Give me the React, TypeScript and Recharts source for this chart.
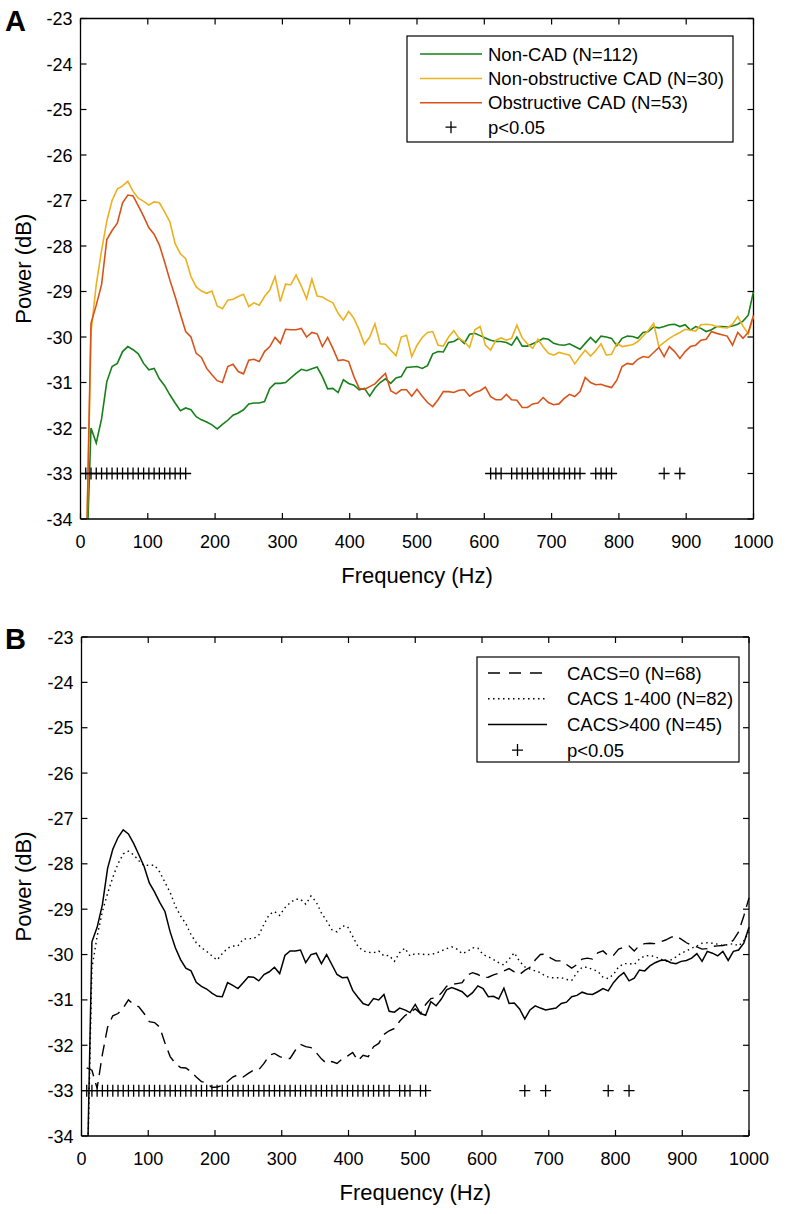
import React from "react";
import { ComposedChart, Line, Scatter, XAxis, YAxis, ReferenceLine } from "recharts";

// spectrum bins (Hz), 1000/128 Hz apart
const FREQ = [
  7.8, 15.6, 23.4, 31.3, 39.1, 46.9, 54.7, 62.5, 70.3, 78.1, 85.9, 93.8, 101.6, 109.4, 117.2, 125,
  132.8, 140.6, 148.4, 156.3, 164.1, 171.9, 179.7, 187.5, 195.3, 203.1, 210.9, 218.8, 226.6, 234.4, 242.2, 250,
  257.8, 265.6, 273.4, 281.3, 289.1, 296.9, 304.7, 312.5, 320.3, 328.1, 335.9, 343.8, 351.6, 359.4, 367.2, 375,
  382.8, 390.6, 398.4, 406.3, 414.1, 421.9, 429.7, 437.5, 445.3, 453.1, 460.9, 468.8, 476.6, 484.4, 492.2, 500,
  507.8, 515.6, 523.4, 531.3, 539.1, 546.9, 554.7, 562.5, 570.3, 578.1, 585.9, 593.8, 601.6, 609.4, 617.2, 625,
  632.8, 640.6, 648.4, 656.3, 664.1, 671.9, 679.7, 687.5, 695.3, 703.1, 710.9, 718.8, 726.6, 734.4, 742.2, 750,
  757.8, 765.6, 773.4, 781.3, 789.1, 796.9, 804.7, 812.5, 820.3, 828.1, 835.9, 843.8, 851.6, 859.4, 867.2, 875,
  882.8, 890.6, 898.4, 906.3, 914.1, 921.9, 929.7, 937.5, 945.3, 953.1, 960.9, 968.8, 976.6, 984.4, 992.2, 1000,
];

// panel A
const NON_CAD = [
  -35.5, -32.0, -32.33, -31.8, -30.98, -30.65, -30.58, -30.32, -30.21, -30.28, -30.37, -30.58, -30.72, -30.69, -30.92, -31.07,
  -31.27, -31.45, -31.62, -31.56, -31.6, -31.75, -31.82, -31.87, -31.93, -32.02, -31.92, -31.83, -31.72, -31.67, -31.6, -31.47,
  -31.45, -31.45, -31.42, -31.13, -31.02, -31.02, -31.0, -30.9, -30.8, -30.71, -30.74, -30.7, -30.66, -30.87, -31.14, -31.13,
  -31.22, -30.94, -31.02, -31.06, -31.16, -31.13, -31.3, -31.12, -31.0, -30.92, -31.02, -30.9, -30.87, -30.67, -30.66, -30.65,
  -30.69, -30.63, -30.37, -30.32, -30.33, -30.12, -30.1, -30.03, -30.14, -29.94, -29.92, -29.97, -30.02, -30.07, -30.1, -30.1,
  -30.12, -30.18, -30.0, -30.2, -30.2, -30.15, -30.1, -30.03, -30.05, -30.14, -30.17, -30.18, -30.15, -30.21, -30.27, -30.14,
  -30.01, -30.12, -29.98, -30.0, -30.03, -30.19, -30.03, -29.98, -29.99, -30.03, -29.9, -29.88, -29.78, -29.8, -29.77, -29.73,
  -29.72, -29.77, -29.73, -29.85, -29.77, -29.81, -29.88, -29.84, -29.77, -29.77, -29.78, -29.76, -29.72, -29.65, -29.52, -29.0,
];
const NON_OBSTRUCTIVE = [
  -35.5, -29.9, -28.85, -28.1, -27.45, -27.0, -26.75, -26.68, -26.58, -26.8, -26.95, -27.02, -27.1, -27.03, -27.05, -27.25,
  -27.47, -27.95, -28.17, -28.28, -28.67, -28.9, -28.99, -29.04, -28.99, -29.32, -29.38, -29.19, -29.17, -29.11, -29.06, -29.33,
  -29.25, -29.3, -29.11, -28.97, -28.67, -29.22, -28.84, -28.85, -28.64, -28.88, -29.16, -28.73, -29.1, -29.12, -29.19, -29.25,
  -29.48, -29.63, -29.44, -29.59, -29.85, -30.16, -30.0, -29.71, -30.15, -30.16, -30.29, -30.41, -30.0, -29.96, -30.43, -30.18,
  -30.01, -29.9, -29.88, -30.18, -30.2, -30.0, -29.86, -30.03, -30.1, -30.23, -29.84, -29.77, -30.18, -30.29, -30.07, -30.02,
  -30.07, -30.03, -29.74, -30.02, -30.15, -30.25, -30.05, -30.22, -30.36, -30.4, -30.34, -30.37, -30.4, -30.59, -30.43, -30.29,
  -30.42, -30.3, -30.15, -30.4, -30.38, -30.14, -30.21, -30.19, -30.17, -30.1, -29.98, -29.85, -29.7, -30.21, -30.12, -30.03,
  -29.96, -29.9, -29.83, -29.85, -29.87, -29.73, -29.72, -29.73, -29.77, -29.79, -29.8, -29.72, -29.55, -29.76, -29.93, -29.55,
];
const OBSTRUCTIVE = [
  -35.5, -29.7, -29.3, -28.85, -27.86, -27.66, -27.5, -27.05, -26.88, -26.9, -27.12, -27.35, -27.6, -27.74, -27.98, -28.35,
  -28.75, -29.11, -29.5, -29.88, -30.0, -30.36, -30.45, -30.69, -30.83, -30.96, -31.0, -30.65, -30.6, -30.76, -30.81, -30.51,
  -30.49, -30.54, -30.32, -30.21, -30.01, -30.14, -29.83, -29.84, -29.84, -29.81, -30.0, -29.9, -29.93, -30.21, -30.01, -30.25,
  -30.52, -30.5, -30.54, -30.87, -31.13, -31.15, -31.09, -31.03, -30.91, -30.8, -31.18, -31.25, -31.16, -31.16, -31.3, -31.15,
  -31.3, -31.44, -31.53, -31.38, -31.2, -31.2, -31.22, -31.17, -31.16, -31.3, -31.22, -31.18, -31.1, -31.31, -31.38, -31.38,
  -31.26, -31.38, -31.39, -31.55, -31.55, -31.47, -31.45, -31.33, -31.44, -31.49, -31.47, -31.35, -31.26, -31.31, -31.2, -30.89,
  -31.0, -31.05, -31.04, -31.08, -31.11, -30.95, -30.65, -30.58, -30.6, -30.49, -30.43, -30.45, -30.34, -30.23, -30.43, -30.21,
  -30.32, -30.47, -30.32, -30.21, -30.18, -30.07, -30.05, -29.88, -29.92, -29.95, -29.98, -30.18, -29.9, -30.03, -29.9, -29.52,
];
// bins (1-based) with p<0.05
const SIG_BINS_A = [
  1, 2, 3, 4, 5, 6, 7, 8, 9, 10, 11, 12, 13, 14, 15, 16, 17, 18, 19, 20,
  78, 79, 80, 82, 83, 84, 85, 86, 87, 88, 89, 90, 91, 92, 93, 94, 95, 98, 99, 100, 101, 111, 114,
];

// panel B
const CACS_0 = [
  -32.5, -32.55, -32.95, -32.2, -31.6, -31.35, -31.3, -31.18, -31.0, -31.1, -31.15, -31.3, -31.48, -31.5, -31.6, -31.95,
  -32.25, -32.4, -32.49, -32.5, -32.58, -32.7, -32.8, -32.83, -32.93, -32.92, -32.89, -32.8, -32.7, -32.65, -32.7, -32.62,
  -32.55, -32.54, -32.4, -32.22, -32.18, -32.25, -32.29, -32.29, -32.11, -31.98, -32.03, -32.05, -32.16, -32.3, -32.4, -32.36,
  -32.4, -32.3, -32.24, -32.16, -32.34, -32.22, -32.25, -32.03, -31.96, -31.76, -31.68, -31.63, -31.47, -31.35, -31.27, -31.2,
  -31.3, -31.1, -30.97, -30.95, -30.85, -30.7, -30.66, -30.64, -30.62, -30.45, -30.4, -30.44, -30.51, -30.5, -30.45, -30.41,
  -30.36, -30.31, -30.38, -30.44, -30.35, -30.28, -30.12, -30.0, -29.99, -30.08, -30.14, -30.14, -30.22, -30.3, -30.22, -30.1,
  -30.08, -30.1, -29.96, -29.92, -30.03, -30.02, -29.88, -29.84, -29.81, -29.92, -29.8, -29.76, -29.75, -29.76, -29.72, -29.68,
  -29.62, -29.59, -29.66, -29.74, -29.8, -29.83, -29.88, -29.87, -29.82, -29.81, -29.8, -29.77, -29.68, -29.5, -29.15, -28.75,
];
const CACS_1_400 = [
  -35.5, -30.3, -29.6, -29.05, -28.65, -28.3, -28.0, -27.78, -27.72, -27.8, -27.93, -28.04, -28.03, -28.03, -28.18, -28.41,
  -28.63, -28.93, -29.15, -29.32, -29.56, -29.74, -29.85, -29.93, -30.03, -30.12, -29.98, -29.86, -29.81, -29.81, -29.66, -29.65,
  -29.65, -29.57, -29.33, -29.12, -29.05, -29.14, -28.97, -28.86, -28.78, -28.78, -28.89, -28.71, -28.84, -29.08, -29.26, -29.45,
  -29.5, -29.37, -29.38, -29.6, -29.82, -29.92, -29.95, -29.96, -29.92, -30.03, -30.02, -30.15, -29.96, -29.86, -30.03, -29.98,
  -29.99, -30.0, -30.0, -29.97, -29.92, -29.87, -29.83, -29.88, -29.98, -29.93, -29.85, -29.86, -30.0, -30.05, -30.11, -30.18,
  -30.23, -30.1, -29.96, -30.15, -30.27, -30.32, -30.36, -30.4, -30.48, -30.51, -30.51, -30.51, -30.55, -30.57, -30.4, -30.28,
  -30.28, -30.33, -30.37, -30.5, -30.53, -30.44, -30.27, -30.2, -30.2, -30.22, -30.1, -30.03, -30.02, -30.05, -30.09, -30.15,
  -30.12, -30.05, -29.97, -29.92, -29.86, -29.81, -29.75, -29.74, -29.75, -29.77, -29.8, -29.78, -29.76, -29.81, -29.7, -29.5,
];
const CACS_GT_400 = [
  -35.5, -29.72, -29.4, -28.9, -28.1, -27.68, -27.42, -27.25, -27.34, -27.55, -27.8, -28.06, -28.42, -28.62, -28.85, -29.05,
  -29.5, -29.85, -30.11, -30.3, -30.36, -30.61, -30.7, -30.76, -30.85, -30.92, -30.93, -30.62, -30.68, -30.75, -30.62, -30.49,
  -30.5, -30.58, -30.44, -30.38, -30.28, -30.42, -30.02, -29.92, -29.92, -29.9, -30.18, -30.0, -29.97, -30.2, -30.0, -30.22,
  -30.44, -30.51, -30.5, -30.79, -30.94, -31.08, -31.12, -30.97, -31.0, -30.88, -31.25, -31.27, -31.18, -31.22, -31.28, -31.1,
  -31.3, -31.34, -31.04, -31.13, -30.98, -30.78, -30.73, -30.77, -30.82, -30.93, -30.84, -30.69, -30.75, -30.93, -30.92, -30.98,
  -30.74, -31.08, -31.07, -31.2, -31.42, -31.22, -31.13, -31.18, -31.22, -31.2, -31.18, -31.08, -31.05, -30.93, -30.9, -30.83,
  -30.87, -30.88, -30.82, -30.75, -30.8, -30.62, -30.49, -30.4, -30.58, -30.52, -30.34, -30.36, -30.25, -30.18, -30.13, -30.12,
  -30.18, -30.2, -30.15, -30.13, -30.08, -29.98, -30.15, -29.93, -29.97, -30.03, -29.93, -30.13, -29.93, -29.9, -29.75, -29.4,
];
const SIG_BINS_B = [
  1, 2, 3, 4, 5, 6, 7, 8, 9, 10, 11, 12, 13, 14, 15, 16, 17, 18, 19, 20, 21, 22, 23, 24, 25, 26, 27, 28, 29,
  30, 31, 32, 33, 34, 35, 36, 37, 38, 39, 40, 41, 42, 43, 44, 45, 46, 47, 48, 49, 50, 51, 52, 53, 54, 55, 56,
  57, 58, 59, 61, 62, 63, 65, 66, 85, 89, 101, 105,
];

const SIG_LEVEL = -33;
const X_TICKS = [0, 100, 200, 300, 400, 500, 600, 700, 800, 900, 1000];
const Y_TICKS = [-34, -33, -32, -31, -30, -29, -28, -27, -26, -25, -24, -23];

const FONT = "'Liberation Sans', Arial, Helvetica, sans-serif";
const GREEN = "#16801a";
const YELLOW = "#EDB120";
const ORANGE = "#D95319";

type Box = { left: number; right: number; top: number; bottom: number };

const rowsA = FREQ.map((f, i) => ({ f, nonCad: NON_CAD[i], nonObs: NON_OBSTRUCTIVE[i], obs: OBSTRUCTIVE[i] }));
const rowsB = FREQ.map((f, i) => ({ f, c0: CACS_0[i], c1: CACS_1_400[i], c2: CACS_GT_400[i] }));
const sigA = SIG_BINS_A.map((k) => ({ f: FREQ[k - 1], p: SIG_LEVEL }));
const sigB = SIG_BINS_B.map((k) => ({ f: FREQ[k - 1], p: SIG_LEVEL }));

const PlusMark = (props: any) => {
  const { cx, cy } = props;
  if (cx == null || cy == null) return <g />;
  return (
    <path
      d={`M${cx - 5.5},${cy}H${cx + 5.5}M${cx},${cy - 6}V${cy + 6}`}
      stroke="#000"
      strokeWidth={1.3}
      fill="none"
    />
  );
};

const xTick = (box: Box) => (props: any) => {
  const { x, payload } = props;
  return (
    <g>
      <line x1={x} x2={x} y1={box.bottom} y2={box.bottom - 6} stroke="#000" strokeWidth={1.2} />
      <line x1={x} x2={x} y1={box.top} y2={box.top + 6} stroke="#000" strokeWidth={1.2} />
      <text x={x} y={box.bottom + 29} textAnchor="middle" fontSize={18} fontFamily={FONT} fill="#000">
        {payload.value}
      </text>
    </g>
  );
};

const yTick = (box: Box) => (props: any) => {
  const { y, payload } = props;
  return (
    <g>
      <line x1={box.left} x2={box.left + 6} y1={y} y2={y} stroke="#000" strokeWidth={1.2} />
      <line x1={box.right - 6} x2={box.right} y1={y} y2={y} stroke="#000" strokeWidth={1.2} />
      <text x={box.left - 8} y={y + 6.5} textAnchor="end" fontSize={18} fontFamily={FONT} fill="#000">
        {payload.value}
      </text>
    </g>
  );
};

type LegendRow = { label: string; stroke?: string; dash?: string; plus?: boolean };

function LegendBox(props: {
  left: number;
  top: number;
  width: number;
  height: number;
  firstRow: number;
  rowStep: number;
  sample: [number, number];
  textX: number;
  rows: LegendRow[];
}) {
  const { left, top, width, height, firstRow, rowStep, sample, textX, rows } = props;
  return (
    <svg
      width={width + 2}
      height={height + 2}
      style={{ position: "absolute", left: left - 1, top: top - 1, overflow: "visible" }}
    >
      <rect x={1} y={1} width={width} height={height} fill="#fff" stroke="#000" strokeWidth={1.2} />
      {rows.map((r, i) => {
        const cy = 1 + firstRow + i * rowStep;
        const mid = (sample[0] + sample[1]) / 2;
        return (
          <g key={r.label}>
            {r.plus ? (
              <PlusMark cx={1 + mid} cy={cy} />
            ) : (
              <line
                x1={1 + sample[0]}
                x2={1 + sample[1]}
                y1={cy}
                y2={cy}
                stroke={r.stroke}
                strokeWidth={1.5}
                strokeDasharray={r.dash}
              />
            )}
            <text x={1 + textX} y={cy + 6.5} fontSize={18.5} fontFamily={FONT} fill="#000">
              {r.label}
            </text>
          </g>
        );
      })}
    </svg>
  );
}

function Panel(props: {
  top: number;
  height: number;
  box: Box;
  letter: string;
  data: any[];
  sig: any[];
  children: React.ReactNode;
}) {
  const { top, height, box, letter, data, sig, children } = props;
  const midY = (box.top + box.bottom) / 2;
  const midX = (box.left + box.right) / 2;
  return (
    <div style={{ position: "absolute", left: 0, top, width: 786, height }}>
      <ComposedChart
        width={786}
        height={height}
        data={data}
        margin={{ top: box.top, left: box.left - 60, right: 786 - box.right, bottom: height - box.bottom - 30 }}
      >
        <XAxis
          type="number"
          dataKey="f"
          domain={[0, 1000]}
          ticks={X_TICKS}
          interval={0}
          height={30}
          tickLine={false}
          tickSize={0}
          axisLine={{ stroke: "#000", strokeWidth: 1.3 }}
          tick={xTick(box)}
        />
        <YAxis
          type="number"
          domain={[-34, -23]}
          ticks={Y_TICKS}
          interval={0}
          width={60}
          allowDataOverflow
          tickLine={false}
          tickSize={0}
          axisLine={{ stroke: "#000", strokeWidth: 1.3 }}
          tick={yTick(box)}
        />
        <ReferenceLine y={-23} stroke="#000" strokeWidth={1.3} />
        <ReferenceLine x={1000} stroke="#000" strokeWidth={1.3} />
        {children}
        <Scatter data={sig} dataKey="p" shape={PlusMark} isAnimationActive={false} />
      </ComposedChart>
      <svg width={786} height={height} style={{ position: "absolute", left: 0, top: 0, pointerEvents: "none" }}>
        <text x={5} y={box.top + 12} fontSize={29} fontWeight="bold" fontFamily={FONT} fill="#000">
          {letter}
        </text>
        <text
          x={0}
          y={0}
          transform={`translate(31, ${midY}) rotate(-90)`}
          textAnchor="middle"
          fontSize={22}
          fontFamily={FONT}
          fill="#000"
        >
          Power (dB)
        </text>
        <text x={midX} y={box.bottom + 64} textAnchor="middle" fontSize={22} fontFamily={FONT} fill="#000">
          Frequency (Hz)
        </text>
      </svg>
    </div>
  );
}

export default function App() {
  const boxA: Box = { left: 80.5, right: 753.5, top: 18.5, bottom: 519 };
  const boxB: Box = { left: 81.5, right: 749, top: 37, bottom: 536 };
  return (
    <div style={{ position: "relative", width: 786, height: 1214, background: "#fff", fontFamily: FONT }}>
      <style>{"body{margin:0}"}</style>
      <Panel top={0} height={600} box={boxA} letter="A" data={rowsA} sig={sigA}>
        <Line type="linear" dataKey="nonCad" stroke={GREEN} strokeWidth={1.6} dot={false} isAnimationActive={false} />
        <Line type="linear" dataKey="nonObs" stroke={YELLOW} strokeWidth={1.6} dot={false} isAnimationActive={false} />
        <Line type="linear" dataKey="obs" stroke={ORANGE} strokeWidth={1.6} dot={false} isAnimationActive={false} />
      </Panel>
      <Panel top={600} height={614} box={boxB} letter="B" data={rowsB} sig={sigB}>
        <Line type="linear" dataKey="c0" stroke="#000" strokeWidth={1.4} strokeDasharray="12 7" dot={false} isAnimationActive={false} />
        <Line type="linear" dataKey="c1" stroke="#000" strokeWidth={1.4} strokeDasharray="1.5 3.5" dot={false} isAnimationActive={false} />
        <Line type="linear" dataKey="c2" stroke="#000" strokeWidth={1.5} dot={false} isAnimationActive={false} />
      </Panel>
      <LegendBox
        left={407}
        top={36}
        width={326}
        height={106}
        firstRow={18}
        rowStep={24.4}
        sample={[13, 75]}
        textX={81}
        rows={[
          { label: "Non-CAD (N=112)", stroke: GREEN },
          { label: "Non-obstructive CAD (N=30)", stroke: YELLOW },
          { label: "Obstructive CAD (N=53)", stroke: ORANGE },
          { label: "p<0.05", plus: true },
        ]}
      />
      <LegendBox
        left={477}
        top={657}
        width={262}
        height={105}
        firstRow={16}
        rowStep={25.7}
        sample={[11, 70]}
        textX={90}
        rows={[
          { label: "CACS=0 (N=68)", stroke: "#000", dash: "12 9" },
          { label: "CACS 1-400 (N=82)", stroke: "#000", dash: "1.5 3.5" },
          { label: "CACS>400 (N=45)", stroke: "#000" },
          { label: "p<0.05", plus: true },
        ]}
      />
    </div>
  );
}
